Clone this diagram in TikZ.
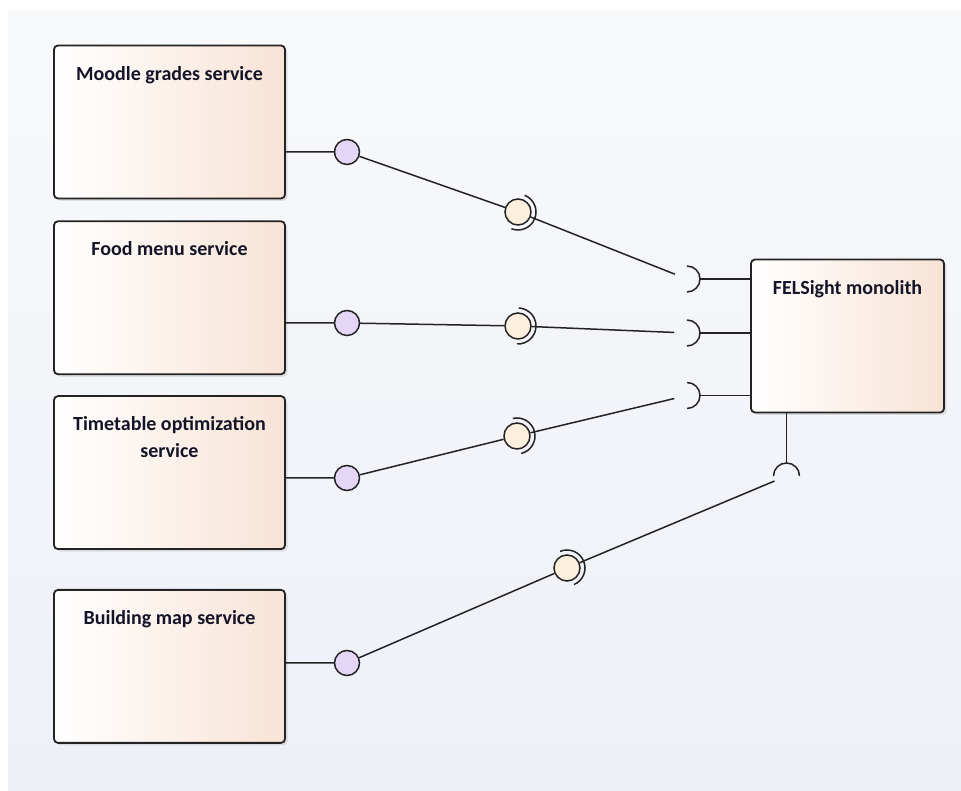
\documentclass[tikz,border=0pt]{standalone}
\usepackage{fontspec}
\setmainfont{Carlito}
\usepackage{tikz}
\usetikzlibrary{positioning,calc,shadows}

\definecolor{boxright}{RGB}{248,227,214}
\definecolor{provfill}{RGB}{228,214,246}
\definecolor{reqfill}{RGB}{252,239,222}
\definecolor{bgtop}{RGB}{248,249,251}
\definecolor{bgbottom}{RGB}{237,240,247}
\definecolor{linegray}{RGB}{35,35,35}
\definecolor{titleink}{RGB}{20,20,40}

\tikzset{
  component/.style={draw=linegray, line width=1.8pt, rounded corners=4pt, left color=white, right color=boxright,
    minimum width=231pt, minimum height=153pt, inner sep=0pt,
    drop shadow={shadow xshift=2.5pt, shadow yshift=-2.5pt, opacity=0.25, fill=black!40}},
  title/.style={font=\bfseries\fontsize{20}{27}\selectfont, align=center, anchor=base, yshift=-35.5pt, text=titleink},
  provided/.style={circle, draw=linegray, line width=1.5pt, fill=provfill, minimum size=25pt, inner sep=0pt},
  assembly/.style={circle, draw=linegray, line width=1.5pt, fill=reqfill, minimum size=26pt, inner sep=0pt},
  socket/.style={circle, minimum size=26pt, inner sep=0pt, outer sep=0pt},
  wire/.style={draw=linegray, line width=1.5pt}
}

\begin{document}
\begin{tikzpicture}[x=1pt, y=1pt]
    % Backdrop
    \shade[top color=bgtop, bottom color=bgbottom] (8,0) rectangle (961,780);
    \useasboundingbox (0,0) rectangle (961,791);

    % Services
    \node[component, label={[title]north:Moodle grades service}] (moodle) at (169.5,669) {};
    \node[component, below=21pt of moodle, label={[title]north:Food menu service}] (food) {};
    \node[component, below=20pt of food, label={[title, yshift=-27pt]north:Timetable optimization\\service}] (timetable) {};
    \node[component, below=39pt of timetable, label={[title]north:Building map service}] (building) {};

    % Monolith
    \node[component, minimum width=193pt, label={[title]north:FELSight monolith}] (monolith) at (847.5,455) {};

    % Provided interfaces
    \node[provided] (mprov) at (347,639) {};
    \node[provided] (fprov) at (347,468) {};
    \node[provided] (tprov) at (347,313) {};
    \node[provided] (bprov) at (347,128) {};

    % Assembly balls
    \node[assembly] (mball) at (518,579) {};
    \node[assembly] (fball) at (518,465) {};
    \node[assembly] (tball) at (517,355) {};
    \node[assembly] (bball) at (567,223) {};

    % Required sockets
    \node[socket] (msock) at (687,512) {};
    \node[socket] (fsock) at (687,458) {};
    \node[socket] (tsock) at (687,395.5) {};
    \node[socket] (bsock) at (786.5,315) {};

    % Wires
    \draw[wire] (moodle.east |- mprov) -- (mprov) -- (mball) -- (msock);
    \draw[wire] (food.east |- fprov) -- (fprov) -- (fball) -- (fsock);
    \draw[wire] (timetable.east |- tprov) -- (tprov) -- (tball) -- (tsock);
    \draw[wire] (building.east |- bprov) -- (bprov) -- (bball) -- (bsock);

    % Sockets on the monolith
    \foreach \s in {msock,fsock,tsock} {
        \draw[wire] (\s.north) arc[start angle=90, end angle=-90, radius=13pt];
        \draw[wire] (\s.east) -- (\s.east -| monolith.west);
    }
    \draw[wire] (bsock.west) arc[start angle=180, end angle=0, radius=13pt];
    \draw[wire] (bsock.north) -- (monolith.south -| bsock);

    % Half rings round the balls
    \foreach \b/\s in {mball/msock, fball/fsock, tball/tsock, bball/bsock} {
        \draw[wire] let \p1 = ($(\s.center)-(\b.center)$), \n1 = {atan2(\y1,\x1)} in
            ([shift={(\n1+90:18pt)}]\b.center) arc[start angle=\n1+90, end angle=\n1-90, radius=18pt];
    }
\end{tikzpicture}
\end{document}
